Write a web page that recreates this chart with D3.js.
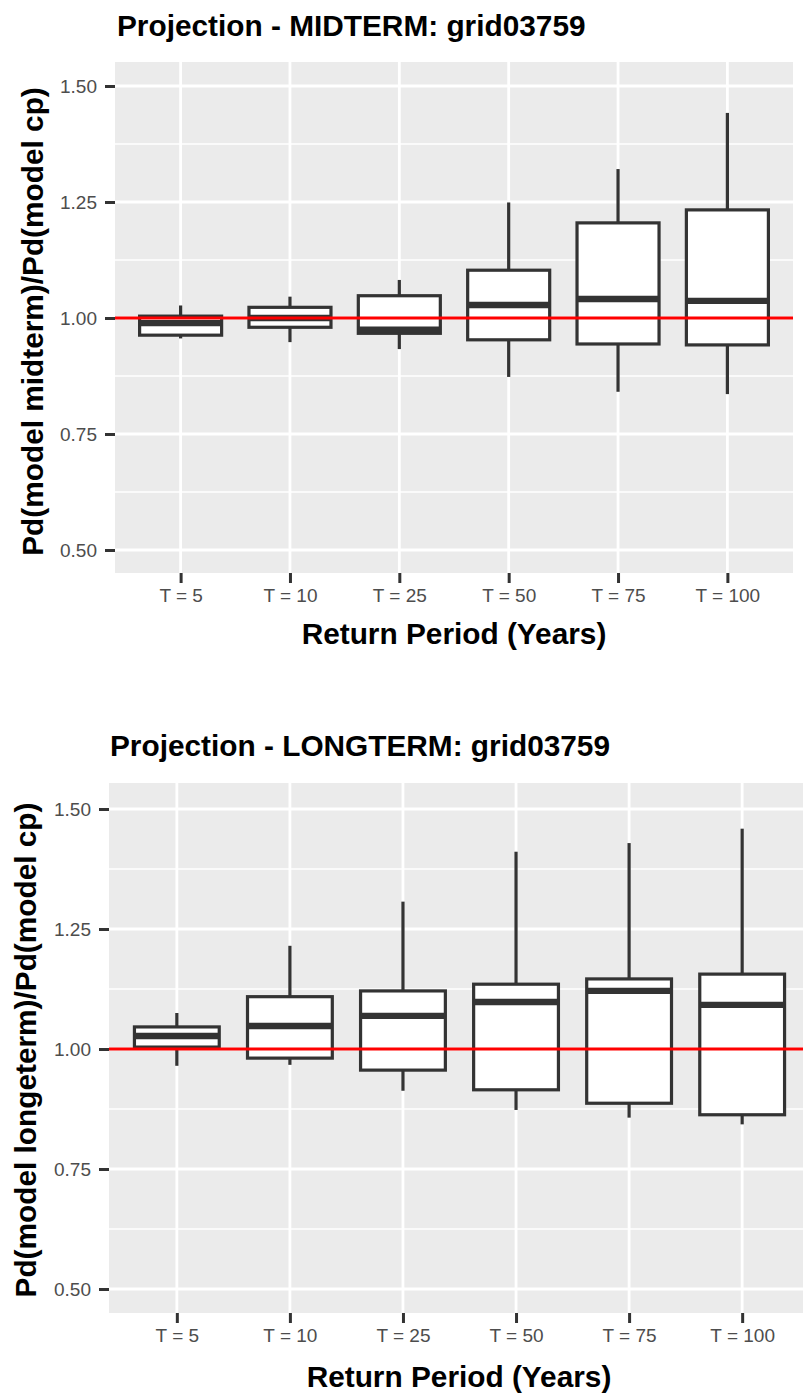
<!DOCTYPE html>
<html>
<head>
<meta charset="utf-8">
<script src="https://cdn.jsdelivr.net/npm/d3@7"></script>
<style>
  body { margin: 0; background: #fff; }
  svg { display: block; font-family: "Liberation Sans", Arial, sans-serif; }
</style>
</head>
<body>
<div id="vis"></div>
<script>
// Return period categories
const periods = ["T = 5", "T = 10", "T = 25", "T = 50", "T = 75", "T = 100"];

// [lower whisker, q1, median, q3, upper whisker] per period
const midtermStats = [
  [0.956, 0.963, 0.989, 1.004, 1.027],
  [0.948, 0.980, 1.000, 1.023, 1.046],
  [0.933, 0.967, 0.975, 1.048, 1.082],
  [0.873, 0.953, 1.028, 1.103, 1.249],
  [0.841, 0.944, 1.041, 1.205, 1.321],
  [0.836, 0.942, 1.037, 1.233, 1.442]
];

const longtermStats = [
  [0.965, 1.004, 1.027, 1.046, 1.075],
  [0.967, 0.981, 1.048, 1.109, 1.215],
  [0.913, 0.956, 1.069, 1.121, 1.307],
  [0.873, 0.915, 1.098, 1.135, 1.411],
  [0.857, 0.887, 1.121, 1.146, 1.429],
  [0.843, 0.863, 1.092, 1.156, 1.459]
];

const yTicks = [0.50, 0.75, 1.00, 1.25, 1.50];
const yMinor = [0.625, 0.875, 1.125, 1.375];
const refValue = 1.0;

const width = 803;
const height = 1394;
const titleSize = "29.8px";
const tickSize = "19px";

const svg = d3.select("#vis")
  .append("svg")
  .attr("width", width)
  .attr("height", height);

function drawPanel(cfg) {
  const x = d3.scalePoint()
    .domain(periods)
    .range([cfg.left, cfg.right])
    .padding(0.6);

  // 1.50 -> y150, 0.50 -> y050
  const y = d3.scaleLinear()
    .domain([0.5, 1.5])
    .range([cfg.y050, cfg.y150]);

  const boxW = x.step() * 0.75;
  const g = svg.append("g");

  // Panel background
  g.append("rect")
    .attr("x", cfg.left)
    .attr("y", cfg.top)
    .attr("width", cfg.right - cfg.left)
    .attr("height", cfg.bottom - cfg.top)
    .attr("fill", "#ebebeb");

  // Grid
  g.selectAll(".minor")
    .data(yMinor)
    .enter().append("line")
    .attr("x1", cfg.left).attr("x2", cfg.right)
    .attr("y1", d => y(d)).attr("y2", d => y(d))
    .attr("stroke", "#fff").attr("stroke-width", 1.4);

  g.selectAll(".major")
    .data(yTicks)
    .enter().append("line")
    .attr("x1", cfg.left).attr("x2", cfg.right)
    .attr("y1", d => y(d)).attr("y2", d => y(d))
    .attr("stroke", "#fff").attr("stroke-width", 2.8);

  g.selectAll(".vgrid")
    .data(periods)
    .enter().append("line")
    .attr("x1", d => x(d)).attr("x2", d => x(d))
    .attr("y1", cfg.top).attr("y2", cfg.bottom)
    .attr("stroke", "#fff").attr("stroke-width", 2.8);

  // Boxes
  const box = g.selectAll(".box")
    .data(cfg.stats.map((s, i) => ({ cat: periods[i], s })))
    .enter().append("g");

  box.append("line")
    .attr("x1", d => x(d.cat)).attr("x2", d => x(d.cat))
    .attr("y1", d => y(d.s[3])).attr("y2", d => y(d.s[4]))
    .attr("stroke", "#333").attr("stroke-width", 3.2);

  box.append("line")
    .attr("x1", d => x(d.cat)).attr("x2", d => x(d.cat))
    .attr("y1", d => y(d.s[1])).attr("y2", d => y(d.s[0]))
    .attr("stroke", "#333").attr("stroke-width", 3.2);

  box.append("rect")
    .attr("x", d => x(d.cat) - boxW / 2)
    .attr("width", boxW)
    .attr("y", d => y(d.s[3]))
    .attr("height", d => y(d.s[1]) - y(d.s[3]))
    .attr("fill", "#fff")
    .attr("stroke", "#333")
    .attr("stroke-width", 3.2);

  box.append("line")
    .attr("x1", d => x(d.cat) - boxW / 2).attr("x2", d => x(d.cat) + boxW / 2)
    .attr("y1", d => y(d.s[2])).attr("y2", d => y(d.s[2]))
    .attr("stroke", "#333").attr("stroke-width", 6.4);

  // Reference line
  g.append("line")
    .attr("x1", cfg.left).attr("x2", cfg.right)
    .attr("y1", y(refValue)).attr("y2", y(refValue))
    .attr("stroke", "#ff0000").attr("stroke-width", 3);

  // Y axis
  const yAxis = g.append("g")
    .attr("transform", `translate(${cfg.left},0)`)
    .call(d3.axisLeft(y).tickValues(yTicks).tickSize(10).tickPadding(8).tickFormat(d3.format(".2f")));
  yAxis.select(".domain").remove();
  yAxis.selectAll(".tick line").attr("stroke", "#333").attr("stroke-width", 3);
  yAxis.selectAll(".tick text")
    .attr("fill", "#4d4d4d")
    .attr("font-size", tickSize)
    .attr("font-family", "Liberation Sans, Arial, sans-serif");

  // X axis
  const xAxis = g.append("g")
    .attr("transform", `translate(0,${cfg.bottom})`)
    .call(d3.axisBottom(x).tickSize(10).tickPadding(6));
  xAxis.select(".domain").remove();
  xAxis.selectAll(".tick line").attr("stroke", "#333").attr("stroke-width", 3);
  xAxis.selectAll(".tick text")
    .attr("fill", "#4d4d4d")
    .attr("font-size", tickSize)
    .attr("font-family", "Liberation Sans, Arial, sans-serif");

  // Titles
  g.append("text")
    .attr("x", cfg.titleX)
    .attr("y", cfg.titleY)
    .attr("font-size", titleSize)
    .attr("font-weight", "bold")
    .attr("fill", "#000")
    .text(cfg.title);

  g.append("text")
    .attr("x", (cfg.left + Math.min(cfg.right, width)) / 2 + cfg.xTitleShift)
    .attr("y", cfg.xTitleY)
    .attr("text-anchor", "middle")
    .attr("font-size", titleSize)
    .attr("font-weight", "bold")
    .attr("fill", "#000")
    .text("Return Period (Years)");

  g.append("text")
    .attr("transform", `translate(${cfg.yTitleX},${(cfg.top + cfg.bottom) / 2 + cfg.yTitleShift}) rotate(-90)`)
    .attr("text-anchor", "middle")
    .attr("font-size", titleSize)
    .attr("font-weight", "bold")
    .attr("fill", "#000")
    .text(cfg.yTitle);
}

drawPanel({
  stats: midtermStats,
  left: 115, right: 793, top: 62, bottom: 573,
  y150: 86, y050: 550,
  title: "Projection - MIDTERM: grid03759",
  titleX: 117, titleY: 36,
  xTitleY: 644, xTitleShift: 0,
  yTitle: "Pd(model midterm)/Pd(model cp)",
  yTitleX: 43, yTitleShift: 4
});

drawPanel({
  stats: longtermStats,
  left: 109, right: 810, top: 783, bottom: 1313,
  y150: 809, y050: 1289,
  title: "Projection - LONGTERM: grid03759",
  titleX: 110, titleY: 756,
  xTitleY: 1387, xTitleShift: 3,
  yTitle: "Pd(model longeterm)/Pd(model cp)",
  yTitleX: 36, yTitleShift: 2
});
</script>
</body>
</html>
